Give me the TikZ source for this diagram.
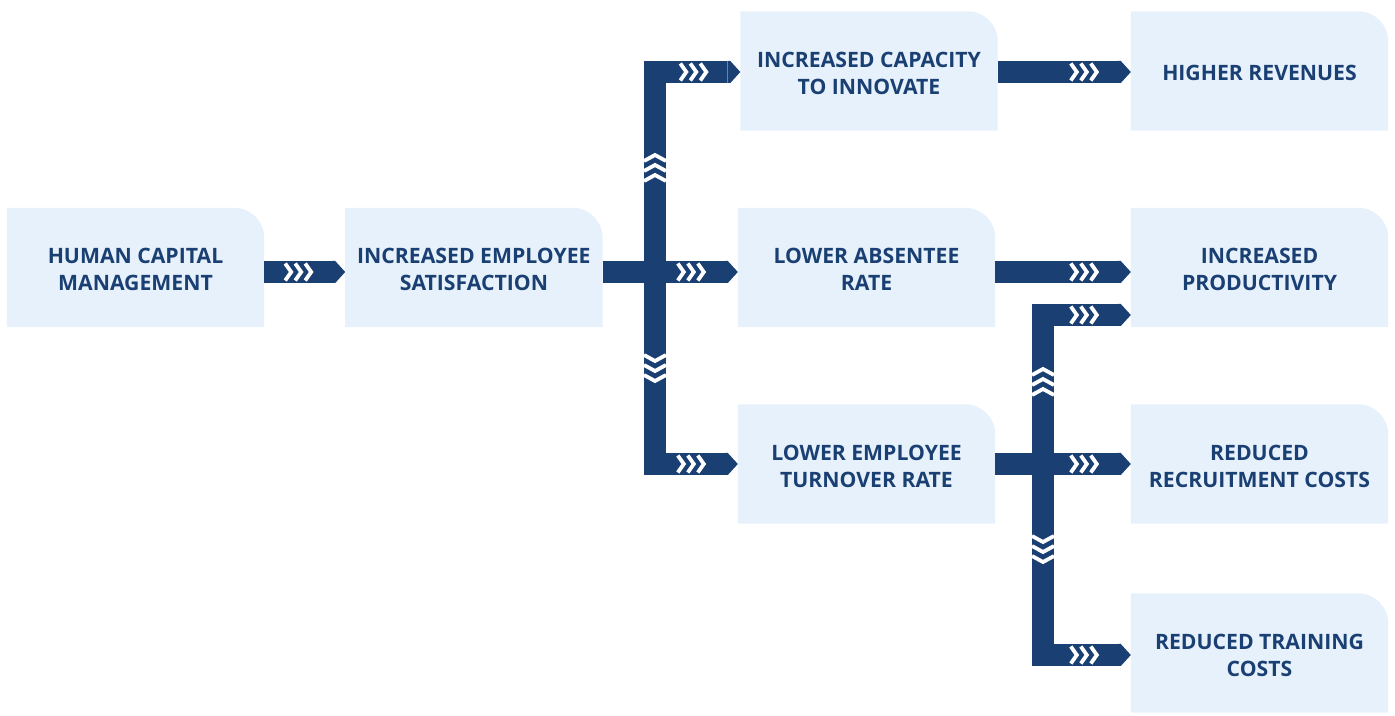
\documentclass[tikz,border=0pt]{standalone}
\usepackage{fontspec}
\setmainfont{Open Sans}
\usetikzlibrary{positioning,backgrounds}
\definecolor{barblue}{HTML}{1A3F72}
\definecolor{boxfill}{HTML}{E6F1FB}

\begin{document}
\begin{tikzpicture}[x=1pt,y=1pt,
    box/.style={minimum width=257pt, minimum height=119pt, inner sep=0pt,
      align=center, text=barblue, font=\fontsize{21.2}{27}\selectfont\bfseries},
    bar/.style={draw=barblue, line width=22pt},
    chev/.style={draw=white, line width=3.8pt}]
  \useasboundingbox (0,0) rectangle (1395,715);

  % boxes
  \node[box] (hcm) at (135.5,445.5) {HUMAN CAPITAL\\MANAGEMENT};
  \node[box,right=81pt of hcm] (sat) {INCREASED EMPLOYEE\\SATISFACTION};
  \node[box] (inn) at (869,642) {INCREASED CAPACITY\\TO INNOVATE};
  \node[box] (abs) at (866.5,445.5) {LOWER ABSENTEE\\RATE};
  \node[box] (turn) at (866.5,249) {LOWER EMPLOYEE\\TURNOVER RATE};
  \node[box] (rev) at (1259.5,642) {HIGHER REVENUES};
  \node[box] (prod) at (1259.5,445.5) {INCREASED\\PRODUCTIVITY};
  \node[box] (recr) at (1259.5,249) {REDUCED\\RECRUITMENT COSTS};
  \node[box] (train) at (1259.5,60) {REDUCED TRAINING\\COSTS};

  \begin{scope}[on background layer]
    \foreach \n in {hcm,sat,inn,abs,turn,rev,prod,recr,train}
      \fill[boxfill] ([yshift=2]\n.south west) |- ([xshift=-30,yshift=2]\n.north east)
        arc[start angle=90,end angle=0,radius=30] -- ([yshift=2]\n.south east) -- cycle;
  \end{scope}

  % rows of the bars
  \coordinate (r1) at (0,643);
  \coordinate (r2) at (0,443);
  \coordinate (r3) at (0,251);
  \coordinate (r4) at (0,400);
  \coordinate (r5) at (0,60);
  \coordinate (j1) at (655,0);
  \coordinate (j2) at (1043,0);

  \draw[bar] (hcm.east |- r2) -- ([xshift=-13]sat.west |- r2) coordinate (e1);
  \draw[bar] (sat.east |- r2) -- ([xshift=-13]abs.west |- r2) coordinate (e2);
  \draw[bar] ([xshift=-13]inn.west |- r1) coordinate (e3) -- (j1 |- r1)
    -- (j1 |- r3) -- ([xshift=-13]turn.west |- r3) coordinate (e4);
  \draw[bar] (turn.east |- r3) -- ([xshift=-13]recr.west |- r3) coordinate (e5);
  \draw[bar] ([xshift=-13]prod.west |- r4) coordinate (e6) -- (j2 |- r4)
    -- (j2 |- r5) -- ([xshift=-13]train.west |- r5) coordinate (e7);
  \draw[bar] (inn.east |- r1) -- ([xshift=-13]rev.west |- r1) coordinate (e8);
  \draw[bar] (abs.east |- r2) -- ([xshift=-13]prod.west |- r2) coordinate (e9);

  % heads and chevrons
  \foreach \tip in {e1,e2,e3,e4,e5,e6,e7,e8,e9}
  {
    \fill[barblue] (\tip) ++(0,11) -- ++(3,0) -- ++(10,-11) -- ++(-10,-11)
      -- ++(-3,0) -- cycle;
    \foreach \d in {21,31,41}
      \draw[chev] ([xshift=-\d-6]\tip) ++(0,8.5) -- ++(6,-8.5) -- ++(-6,-8.5);
  }
  \foreach \x/\y in {655/560, 655/550, 655/540, 1043/346, 1043/336, 1043/326}
    \draw[chev] (\x-11,\y-6) -- (\x,\y) -- (\x+11,\y-6);
  \foreach \x/\y in {655/334, 655/344, 655/354, 1043/153, 1043/163, 1043/173}
    \draw[chev] (\x-11,\y+6) -- (\x,\y) -- (\x+11,\y+6);
\end{tikzpicture}
\end{document}
